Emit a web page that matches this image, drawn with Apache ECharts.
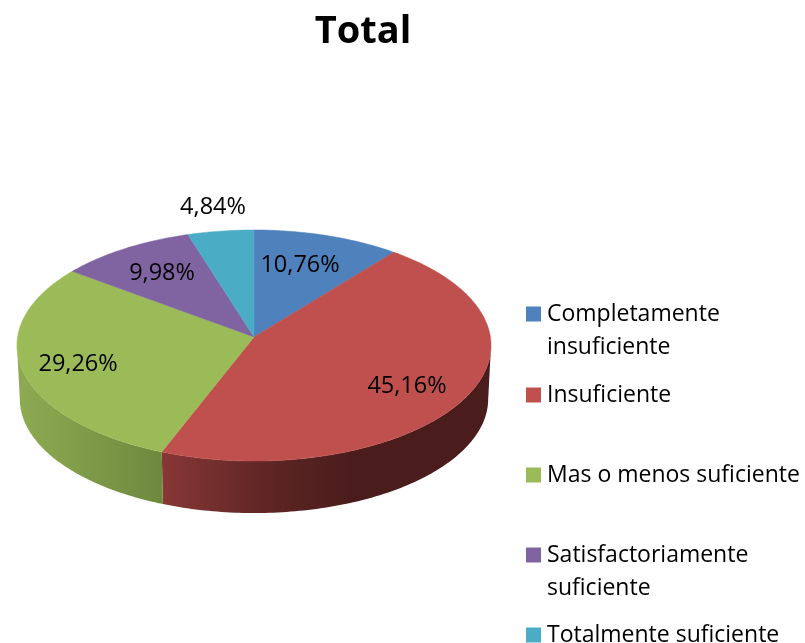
<!DOCTYPE html>
<html>
<head>
<meta charset="utf-8">
<title>Total</title>
<script src="https://cdn.jsdelivr.net/npm/echarts@6/dist/echarts.min.js"></script>
<style>
  html, body { margin: 0; padding: 0; background: #fff; overflow: hidden; }
  #chart { width: 805px; height: 643px; }
</style>
</head>
<body>
<div id="chart"></div>
<script>
// Chart data
const categories = [
  "Completamente insuficiente",
  "Insuficiente",
  "Mas o menos suficiente",
  "Satisfactoriamente suficiente",
  "Totalmente suficiente"
];
const shares = [10.76, 45.16, 29.26, 9.98, 4.84];

// Colours of the top faces and the gradient stops of the visible walls
const colors = ["#4F81BD", "#C0504D", "#9BBB59", "#8064A2", "#4BACC6"];
const wallStops = {
  1: [[0, "#873736"], [0.55, "#5f2624"], [1, "#4a1d1c"]],
  2: [[0, "#8dab52"], [1, "#6e893e"]]
};

// Label placement in disc space: radius fraction and turn (degrees) from the slice middle
const labelRadius = [0.688, 0.752, 0.767, 0.709, 1.248];
const labelTurn = [-2.1, 3.4, -1.5, 0.5, 0];

// Legend layout: two-line names break after the first word
const legendCenterY = [314, 395, 475, 555, 635];
const FONT = "'Open Sans', sans-serif";

// Perspective projection of the disc
const CX = 254, CY = 337, RX = 236.4, RY = 114.9, PERSP = 0.0736;
const DEPTH = 53.5, BOTTOM_SCALE = 0.988;

function project(deg, radius, bottom) {
  const t = deg * Math.PI / 180;
  const u = Math.sin(t) * radius;
  const v = -Math.cos(t) * radius;
  const w = 1 - PERSP * v;
  const s = bottom ? BOTTOM_SCALE : 1;
  return [CX + s * RX * u / w, CY + (bottom ? DEPTH : 0) + s * RY * v / w];
}

function rim(from, to, bottom) {
  const pts = [];
  const steps = Math.max(2, Math.ceil(Math.abs(to - from)));
  for (let k = 0; k <= steps; k++) {
    pts.push(project(from + (to - from) * k / steps, 1, bottom));
  }
  return pts;
}

function sliceAngles(i) {
  const total = shares.reduce((a, b) => a + b, 0);
  const before = shares.slice(0, i).reduce((a, b) => a + b, 0);
  return [before / total * 360, (before + shares[i]) / total * 360];
}

// Angles where the rim reaches its left and right extremes, the wall stops there
const SIDE = Math.acos(-PERSP) * 180 / Math.PI;

// Side walls go first so the top faces cover their hidden parts
const wallSeries = {
  type: "custom",
  coordinateSystem: "none",
  silent: true,
  z: 2,
  data: Object.keys(wallStops).map(Number),
  renderItem: (params, api) => {
    const i = api.value(0);
    const [a0, b0] = sliceAngles(i);
    const a = Math.max(a0, SIDE);
    const b = Math.min(b0, 360 - SIDE);
    const stops = wallStops[i].map(s => ({ offset: s[0], color: s[1] }));
    const pts = rim(a, b, false).concat(rim(b, a, true));
    const fill = i === 1
      ? new echarts.graphic.LinearGradient(162, 0, 350, 0, stops, true)
      : new echarts.graphic.LinearGradient(18, 0, 162, 0, stops, true);
    return {
      type: "polygon",
      shape: { points: pts },
      style: { fill: fill, stroke: null }
    };
  }
};

const sliceSeries = categories.map((name, i) => ({
  name: name,
  type: "custom",
  coordinateSystem: "none",
  silent: true,
  z: 3,
  itemStyle: { color: colors[i] },
  data: [shares[i]],
  renderItem: (params, api) => {
    const [a, b] = sliceAngles(i);
    const mid = (a + b) / 2 + labelTurn[i];
    const pos = project(mid, labelRadius[i], false);
    return {
      type: "group",
      children: [
        {
          type: "polygon",
          shape: { points: [[CX, CY]].concat(rim(a, b, false)) },
          style: { fill: colors[i], stroke: colors[i], lineWidth: 0.5 }
        },
        {
          type: "text",
          z2: 10,
          style: {
            x: pos[0],
            y: pos[1],
            text: api.value(0).toFixed(2).replace(".", ",") + "%",
            fill: "#000",
            font: "23.5px " + FONT,
            align: "center",
            verticalAlign: "middle"
          }
        }
      ]
    };
  }
}));

// One legend per entry because the spacing in the picture is uneven
const legends = categories.map((name, i) => {
  const wrapped = name === categories[0] || name === categories[3];
  return {
    data: [name],
    left: 526,
    top: legendCenterY[i] - (wrapped ? 49.5 : 16.5),
    padding: 0,
    icon: "rect",
    itemWidth: 15,
    itemHeight: 15,
    itemGap: 0,
    selectedMode: false,
    formatter: n => wrapped ? "\u00a0\n" + n.replace(" ", "\n") : n,
    textStyle: {
      color: "#000",
      fontFamily: FONT,
      fontSize: 23,
      lineHeight: 33,
      padding: [0, 0, 0, 1]
    }
  };
});

const chart = echarts.init(document.getElementById("chart"), null, { renderer: "canvas" });
chart.setOption({
  animation: false,
  backgroundColor: "#fff",
  title: {
    text: "Total",
    left: 358,
    top: 8,
    textAlign: "center",
    textStyle: { color: "#000", fontFamily: FONT, fontWeight: "bold", fontSize: 38 }
  },
  legend: legends,
  series: [wallSeries].concat(sliceSeries)
});
</script>
</body>
</html>
